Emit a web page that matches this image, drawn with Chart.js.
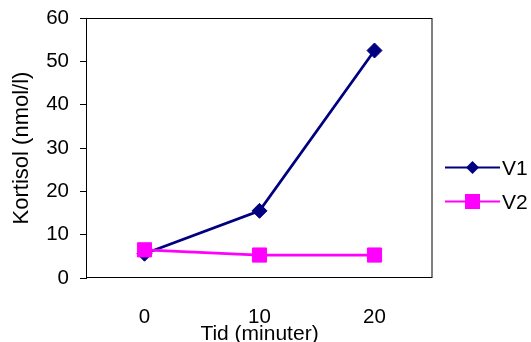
<!DOCTYPE html>
<html>
<head>
<meta charset="utf-8">
<title>Kortisol</title>
<script src="https://cdn.jsdelivr.net/npm/chart.js@4"></script>
<style>
  html, body { margin: 0; padding: 0; background: #fff; }
  canvas { display: block; }
</style>
</head>
<body>
<canvas id="c" width="531" height="342"></canvas>
<script>
// Cortisol level over time for two visits
const categories = ['0', '10', '20'];
const seriesNames = ['V1', 'V2'];
const v1Values = [5.6, 15.5, 52.5];
const v2Values = [6.5, 5.3, 5.3];
const yTicks = [0, 10, 20, 30, 40, 50, 60];

const FONT = '"Liberation Sans", Arial, sans-serif';

// Box around the plot area
const frame = {
  id: 'frame',
  beforeDatasetsDraw(chart) {
    const { ctx, chartArea: a } = chart;
    ctx.save();
    ctx.strokeStyle = '#000';
    ctx.lineWidth = 1;
    ctx.strokeRect(a.left - 0.5, a.top + 0.5, a.right - a.left + 0.5, a.bottom - a.top - 1);
    ctx.restore();
  }
};

function marker(ctx, style, x, y, r, color) {
  ctx.beginPath();
  if (style === 'rectRot') {
    ctx.moveTo(x, y - r);
    ctx.lineTo(x + r, y);
    ctx.lineTo(x, y + r);
    ctx.lineTo(x - r, y);
    ctx.closePath();
  } else {
    ctx.rect(x - r, y - r, 2 * r, 2 * r);
  }
  ctx.fillStyle = color;
  ctx.fill();
}

// Legend on the right: line sample with marker, then the series name
const sideLegend = {
  id: 'sideLegend',
  afterDraw(chart) {
    const { ctx } = chart;
    ctx.save();
    chart.data.datasets.forEach((ds, i) => {
      const y = 167.5 + i * 34;
      ctx.strokeStyle = ds.borderColor;
      ctx.lineWidth = 2;
      ctx.beginPath();
      ctx.moveTo(445, y);
      ctx.lineTo(500, y);
      ctx.stroke();
      marker(ctx, ds.pointStyle, 472.5, y, ds.pointStyle === 'rectRot' ? 6.5 : 7.5, ds.pointBackgroundColor);
      ctx.fillStyle = '#000';
      ctx.font = '21px ' + FONT;
      ctx.textAlign = 'left';
      ctx.textBaseline = 'middle';
      ctx.fillText(ds.label, 502, y + 2);
    });
    ctx.restore();
  }
};

new Chart(document.getElementById('c'), {
  type: 'line',
  data: {
    labels: categories,
    datasets: [
      {
        label: seriesNames[0],
        data: v1Values,
        borderColor: '#000080',
        backgroundColor: '#000080',
        pointBackgroundColor: '#000080',
        pointBorderColor: '#000080',
        borderWidth: 2.75,
        pointStyle: 'rectRot',
        pointRadius: 7.5,
        pointBorderWidth: 1,
        tension: 0,
        order: 1
      },
      {
        label: seriesNames[1],
        data: v2Values,
        borderColor: '#FF00FF',
        backgroundColor: '#FF00FF',
        pointBackgroundColor: '#FF00FF',
        pointBorderColor: '#FF00FF',
        borderWidth: 2.75,
        pointStyle: 'rect',
        pointRadius: 10,
        pointBorderWidth: 1,
        tension: 0,
        order: 0
      }
    ]
  },
  options: {
    responsive: false,
    animation: false,
    devicePixelRatio: 1,
    layout: { padding: { top: 18, right: 99, bottom: 0, left: 0 } },
    plugins: {
      legend: { display: false },
      tooltip: { enabled: false }
    },
    scales: {
      x: {
        type: 'category',
        offset: true,
        grid: { display: false, drawTicks: false },
        border: { display: false },
        ticks: {
          color: '#000',
          padding: 27,
          maxRotation: 0,
          font: { family: FONT, size: 20.5 }
        },
        title: {
          display: true,
          text: 'Tid (minuter)',
          color: '#000',
          padding: 0,
          font: { family: FONT, size: 21, lineHeight: 0.7 }
        },
        afterFit(scale) {
          scale.height = 64;
          scale.paddingLeft = 0;
          scale.paddingRight = 0;
        }
      },
      y: {
        min: 0,
        max: 60,
        afterBuildTicks(scale) { scale.ticks = yTicks.map(v => ({ value: v })); },
        grid: {
          drawOnChartArea: false,
          drawTicks: true,
          tickLength: 7,
          color: '#000',
          lineWidth: 1
        },
        border: { display: false },
        ticks: {
          color: '#000',
          padding: 11,
          font: { family: FONT, size: 20.5 }
        },
        title: {
          display: true,
          text: 'Kortisol (nmol/l)',
          color: '#000',
          padding: { top: 9, bottom: 0 },
          font: { family: FONT, size: 22 }
        },
        afterFit(scale) {
          scale.width = 87;
          scale.paddingTop = 0;
          scale.paddingBottom = 0;
        }
      }
    }
  },
  plugins: [frame, sideLegend]
});
</script>
</body>
</html>
